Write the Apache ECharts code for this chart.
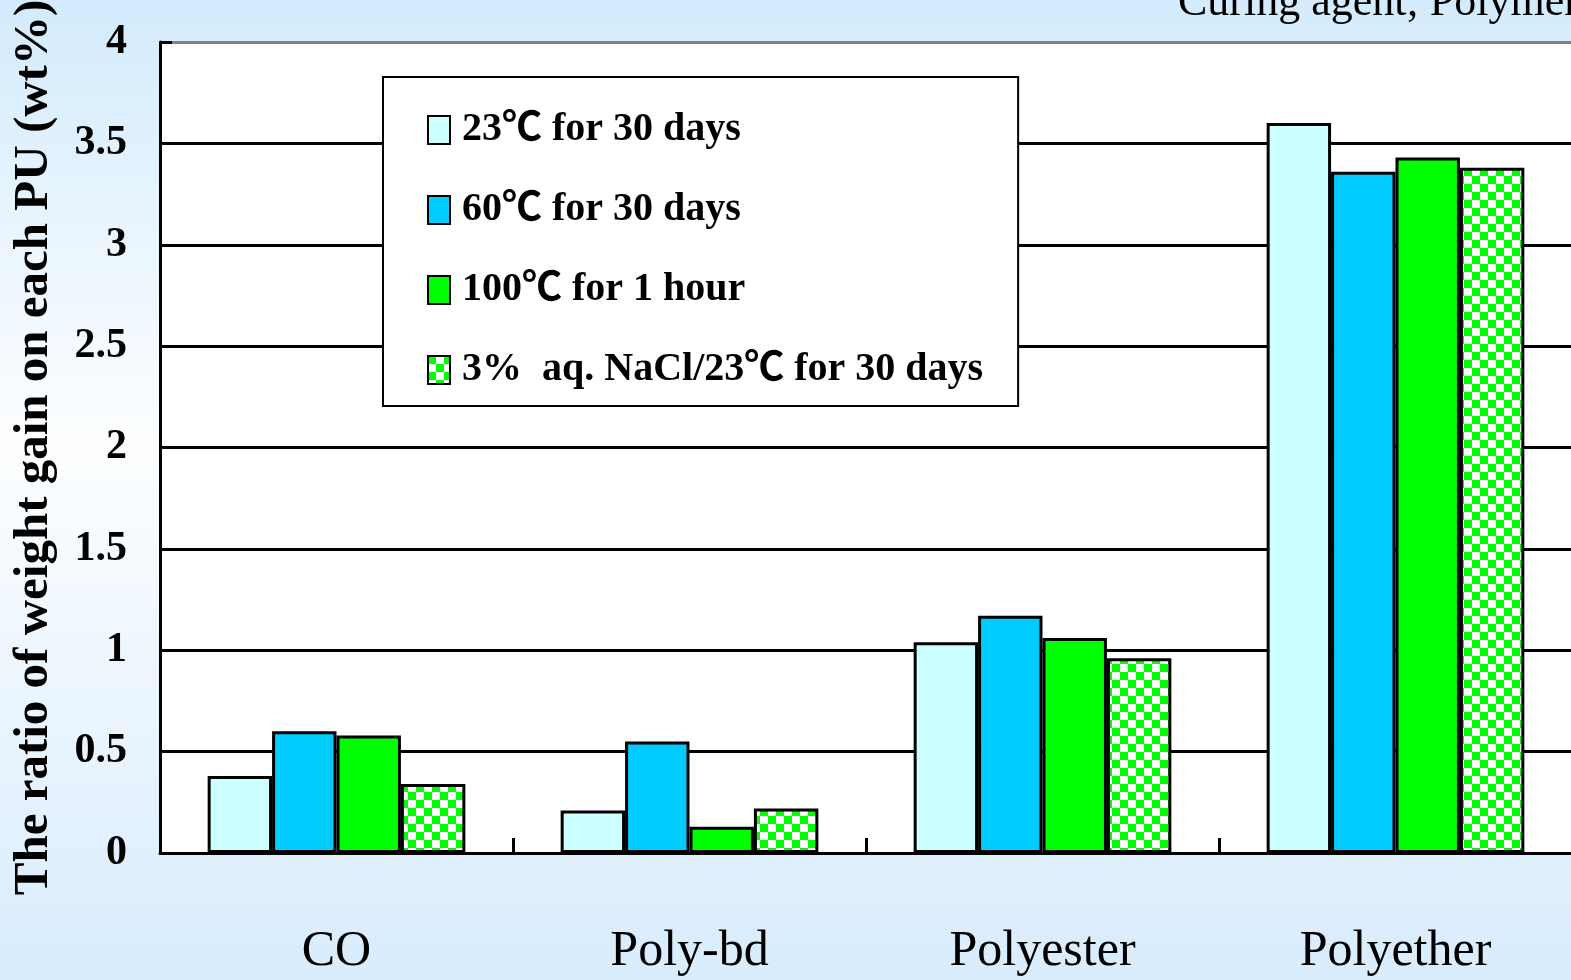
<!DOCTYPE html>
<html><head><meta charset="utf-8">
<script src="https://cdn.jsdelivr.net/npm/echarts@6/dist/echarts.min.js"></script>
<style>html,body{margin:0;padding:0;overflow:hidden;background:#fff}#c{width:1571px;height:980px}</style>
</head><body><div id="c"></div>
<script>
// ---- data ----
const categories = ['CO', 'Poly-bd', 'Polyester', 'Polyether'];
const seriesNames = ['23℃ for 30 days', '60℃ for 30 days', '100℃ for 1 hour', '3%  aq. NaCl/23℃ for 30 days'];
const s23C30days = [0.38, 0.21, 1.04, 3.60];
const s60C30days = [0.60, 0.55, 1.17, 3.36];
const s100C1hour = [0.58, 0.13, 1.06, 3.43];
const sNaCl30days = [0.34, 0.22, 0.96, 3.38];
const yMin = 0, yMax = 4, yStep = 0.5;
const titleText = 'Curing agent; Polymeric MDI';
const yAxisTitle = 'The ratio of weight gain on each PU (wt%)';

// ---- styles ----
const SERIF = "'Liberation Serif','Times New Roman','Noto Sans CJK JP',serif";
const pc = document.createElement('canvas');
pc.width = 16; pc.height = 16;
const pctx = pc.getContext('2d');
pctx.fillStyle = '#ffffff'; pctx.fillRect(0, 0, 16, 16);
pctx.fillStyle = '#00ff00'; pctx.fillRect(0, 0, 8, 8); pctx.fillRect(8, 8, 8, 8);
const checker = { image: pc, repeat: 'repeat' };

const fills = ['#ccffff', '#00ccff', '#00ff00', checker];
const values = [s23C30days, s60C30days, s100C1hour, sNaCl30days];

const splitColors = ['#000','#000','#000','#000','#000','#000','#000','#000','#808080'];

const chart = echarts.init(document.getElementById('c'), null, { renderer: 'canvas' });
chart.setOption({
  animation: false,
  backgroundColor: {
    type: 'linear', x: 0, y: 0, x2: 0, y2: 1,
    colorStops: [
      { offset: 0, color: '#d3ebfc' },
      { offset: 0.45, color: '#fdfeff' },
      { offset: 1, color: '#d8ecfc' }
    ]
  },
  title: {
    text: titleText, left: 1178, top: -19, padding: 0,
    textStyle: { fontFamily: SERIF, fontWeight: 'normal', fontSize: 44, color: '#000' }
  },
  grid: {
    left: 160, top: 42, width: 1412, height: 811,
    outerBoundsMode: 'none',
    show: true, backgroundColor: '#ffffff', borderWidth: 0, containLabel: false
  },
  legend: {
    orient: 'vertical', left: 383, top: 77,
    padding: [33, 35, 16, 44],
    itemGap: 40, itemWidth: 22, itemHeight: 28,
    icon: 'rect',
    backgroundColor: '#ffffff', borderColor: '#000', borderWidth: 2,
    itemStyle: { borderColor: '#000', borderWidth: 2 },
    textStyle: { fontFamily: SERIF, fontWeight: 'bold', fontSize: 40, lineHeight: 40, color: '#000', padding: [0, 0, 0, 7] },
    data: seriesNames
  },
  xAxis: {
    type: 'category', data: categories,
    axisLine: { lineStyle: { color: '#000', width: 3 } },
    axisTick: { show: true, inside: true, length: 15, lineStyle: { color: '#000', width: 3 } },
    axisLabel: { margin: 74, fontFamily: SERIF, fontSize: 50, color: '#000' },
    splitLine: { show: false }
  },
  yAxis: {
    type: 'value', min: yMin, max: yMax, interval: yStep,
    name: yAxisTitle, nameLocation: 'middle', nameRotate: 90, nameGap: 101,
    nameTextStyle: { fontFamily: SERIF, fontWeight: 'bold', fontSize: 49, color: '#000' },
    axisLine: { show: true, lineStyle: { color: '#000', width: 3 } },
    axisTick: { show: true, inside: true, length: 12, lineStyle: { color: '#000', width: 3 } },
    axisLabel: { margin: 33, fontFamily: SERIF, fontWeight: 'bold', fontSize: 42, color: '#000' },
    splitLine: { show: true, lineStyle: { color: splitColors, width: 3 } }
  },
  series: seriesNames.map((name, i) => ({
    name, type: 'bar', data: values[i],
    barGap: '0%', barCategoryGap: '27%',
    itemStyle: { color: fills[i], borderColor: '#000', borderWidth: 3 }
  }))
});
</script>
</body></html>
